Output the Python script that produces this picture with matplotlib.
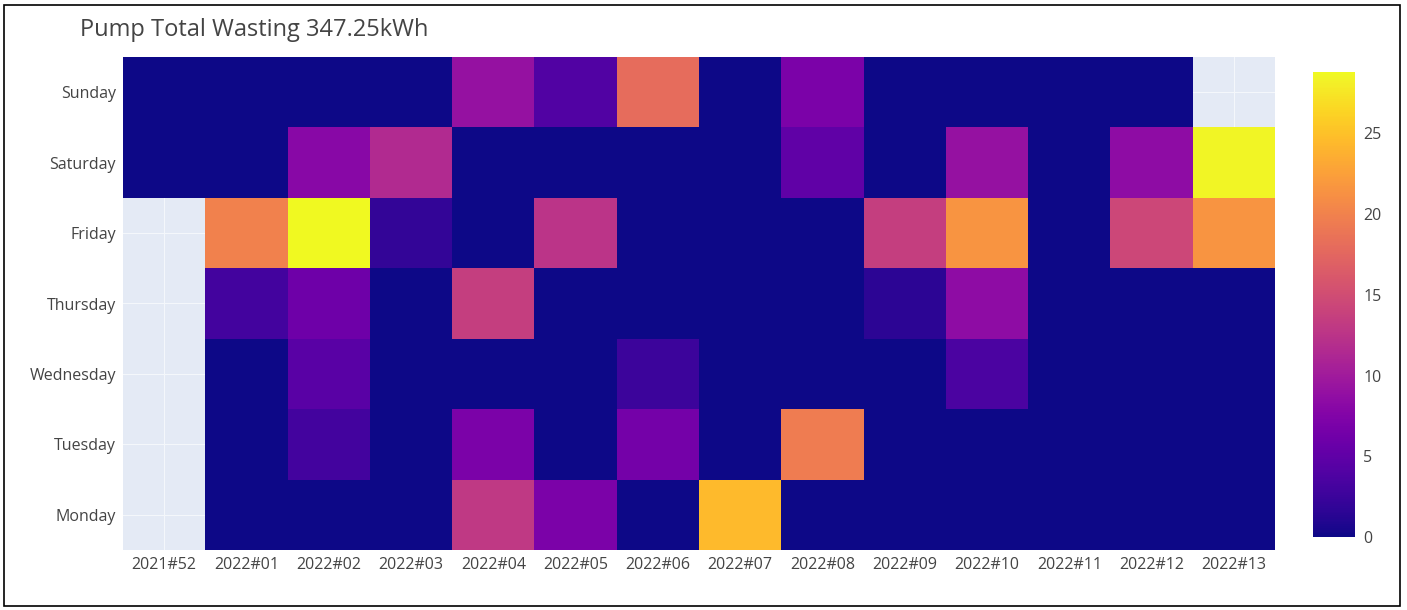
import numpy as np
import matplotlib
matplotlib.use('Agg')
import matplotlib.pyplot as plt
from matplotlib.patches import Rectangle

weeks = ["2021#52", "2022#01", "2022#02", "2022#03", "2022#04", "2022#05", "2022#06",
         "2022#07", "2022#08", "2022#09", "2022#10", "2022#11", "2022#12", "2022#13"]
days = ["Monday", "Tuesday", "Wednesday", "Thursday", "Friday", "Saturday", "Sunday"]

nan = np.nan
monday    = [nan, 0, 0,    0,    13.0, 7.0,  0,    24.5, 0,    0,    0,    0, 0,    0]
tuesday   = [nan, 0, 3.0,  0,    7.0,  0,    6.5,  0,    19.5, 0,    0,    0, 0,    0]
wednesday = [nan, 0, 4.5,  0,    0,    0,    2.5,  0,    0,    0,    3.5,  0, 0,    0]
thursday  = [nan, 3.0, 6.0, 0,   13.5, 0,    0,    0,    0,    1.5,  8.5,  0, 0,    0]
friday    = [nan, 20.0, 28.8, 2.0, 0,  12.5, 0,    0,    0,    13.5, 21.5, 0, 14.5, 21.5]
saturday  = [0,   0, 8.0,  11.5, 0,    0,    0,    0,    5.0,  0,    9.0,  0, 8.5,  28.5]
sunday    = [0,   0, 0,    0,    9.0,  4.0,  18.0, 0,    7.0,  0,    0,    0, 0,    nan]

z = np.array([monday, tuesday, wednesday, thursday, friday, saturday, sunday])

plt.rcParams['font.family'] = ['Open Sans', 'DejaVu Sans']
txt = '#444444'

fig = plt.figure(figsize=(14.07, 6.10), dpi=100)
ax = fig.add_axes([123/1407, 60/610, (1275-123)/1407, (553-60)/610])
ax.set_facecolor('#e4eaf5')

xe = np.arange(len(weeks) + 1) - 0.5
ye = np.arange(len(days) + 1) - 0.5
mesh = ax.pcolormesh(xe, ye, np.ma.masked_invalid(z), cmap='plasma',
                     vmin=0, vmax=np.nanmax(z), zorder=2)
ax.set_xticks(range(len(weeks)))
ax.set_xticklabels(weeks)
ax.set_yticks(range(len(days)))
ax.set_yticklabels(days)
ax.grid(True, color='#f4f7fb', linewidth=0.8, zorder=1)
ax.set_axisbelow(True)
ax.tick_params(length=0, labelsize=11.5, colors=txt, pad=5)
for s in ax.spines.values():
    s.set_visible(False)
ax.set_xlim(-0.5, len(weeks) - 0.5)
ax.set_ylim(-0.5, len(days) - 0.5)

cax = fig.add_axes([1313/1407, 73/610, 42/1407, (538-73)/610])
cb = fig.colorbar(mesh, cax=cax, ticks=[0, 5, 10, 15, 20, 25])
cb.outline.set_visible(False)
cb.ax.tick_params(length=0, labelsize=11.5, colors=txt, pad=6)

fig.text(80/1407, 1 - 30/610, "Pump Total Wasting 347.25kWh", fontsize=17,
         color=txt, va='center', ha='left')

fig.patches.append(Rectangle((4/1407, 4/610), 1396/1407, 601/610, transform=fig.transFigure,
                             fill=False, edgecolor='black', linewidth=1.2))

fig.savefig('out.png', dpi=100)
